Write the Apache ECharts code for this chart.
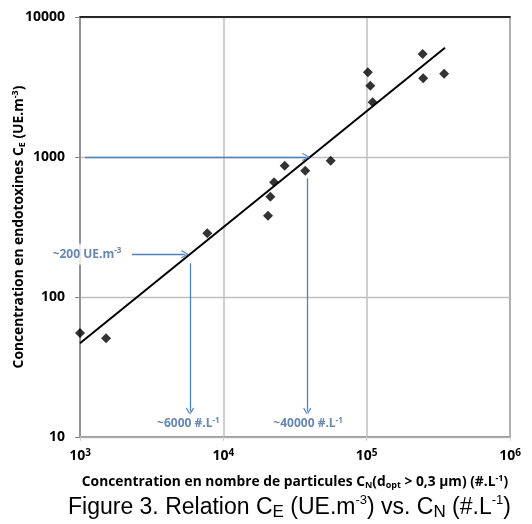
<!DOCTYPE html>
<html>
<head>
<meta charset="utf-8">
<script src="https://cdn.jsdelivr.net/npm/echarts@6/dist/echarts.min.js"></script>
<style>
  html, body { margin: 0; padding: 0; background: #fff; }
  #chart { width: 532px; height: 524px; }
</style>
</head>
<body>
<div id="chart"></div>
<script>
// points : C_N (#.L-1), C_E (UE.m-3)
var cnValues = [1000, 1520, 7730, 20500, 21300, 22600, 26800, 37300, 56100, 102000, 106000, 110000, 246000, 248000, 347000];
var ceValues = [55.3, 50.7, 285, 381, 520, 659, 867, 798, 941, 4030, 3230, 2460, 5440, 3650, 3940];

// droite de tendance (loi puissance)
var trendX = [1000, 352000];
var trendY = [46.7, 6040];

// fleches de lecture
var arrowCE1000 = [[1084, 1000], [37700, 1000]];
var arrowCN40000 = [[38500, 705], [38500, 15.2]];
var arrowCE200 = [[2300, 202], [5400, 202]];
var arrowCN6000 = [[5850, 174], [5850, 15.2]];

// etiquettes des fleches
var noteText = ['~200 UE.m{sup|-3}', '~6000 #.L{sup|-1}', '~40000 #.L{sup|-1}'];
var noteX = [1119, 5700, 39000];
var noteY = [202, 12.4, 12.4];

// graduations
var xTickExp = ['3', '4', '5', '6'];
var yTickLabels = ['10', '100', '1000', '10000'];

var font = 'Open Sans';
var blue = '#4f81bd';
var chevron = 'path://M5,0 L10,8.5 L9,9.5 L5,2.6 L1,9.5 L0,8.5 Z';

var points = cnValues.map(function (x, i) { return [x, ceValues[i]]; });
var trend = trendX.map(function (x, i) { return [x, trendY[i]]; });
var notes = noteText.map(function (t, i) { return { value: [noteX[i], noteY[i]], name: t }; });

function arrow(pair) {
  return [{ coord: pair[0] }, { coord: pair[1] }];
}

var supStyle = { fontSize: 9, fontWeight: 'bold', fontFamily: font, color: '#000', verticalAlign: 'top', lineHeight: 9 };
var subStyle = { fontSize: 9, fontWeight: 'bold', fontFamily: font, color: '#000', verticalAlign: 'bottom', lineHeight: 9 };

var chart = echarts.init(document.getElementById('chart'));

var option = {
  animation: false,
  title: {
    text: 'Figure 3. Relation C{s|E} (UE.m{p|-3}) vs. C{s|N} (#.L{p|-1})',
    left: 68,
    top: 494,
    padding: 0,
    textStyle: {
      fontFamily: 'Liberation Sans',
      fontSize: 23,
      fontWeight: 'normal',
      color: '#000',
      lineHeight: 27,
      rich: {
        s: { fontFamily: 'Liberation Sans', fontSize: 17, color: '#000', verticalAlign: 'bottom', lineHeight: 21 },
        p: { fontFamily: 'Liberation Sans', fontSize: 13, color: '#000', verticalAlign: 'top', lineHeight: 12 }
      }
    }
  },
  grid: {
    left: 80,
    right: 22,
    top: 17,
    bottom: 87,
    outerBoundsMode: 'none',
    show: true,
    borderColor: '#595959',
    borderWidth: 1.5
  },
  xAxis: [{
    type: 'log',
    logBase: 10,
    min: 1000,
    max: 1000000,
    name: 'Concentration en nombre de particules C{b|N}(d{b|opt} > 0,3 µm) (#.L{t|-1})',
    nameLocation: 'middle',
    nameGap: 37,
    nameMoveOverlap: false,
    nameTextStyle: {
      fontFamily: font,
      fontSize: 13.8,
      fontWeight: 'bold',
      color: '#000',
      lineHeight: 16,
      rich: { b: subStyle, t: supStyle }
    },
    axisLine: { lineStyle: { color: '#a6a6a6', width: 1.5 } },
    axisTick: { show: true, length: 4, lineStyle: { color: '#d0d0d0' } },
    splitLine: { show: true, lineStyle: { color: '#bfbfbf', width: 1.5 } },
    minorTick: { show: false },
    axisLabel: {
      margin: 11,
      formatter: function (v) {
        var e = Math.round(Math.log10(v));
        var idx = e - 3;
        return '{a|10}{e|' + xTickExp[idx] + '}';
      },
      rich: {
        a: { fontFamily: font, fontSize: 14, fontWeight: 'bold', color: '#000', lineHeight: 17 },
        e: { fontFamily: font, fontSize: 10, fontWeight: 'bold', color: '#000', verticalAlign: 'top', lineHeight: 11 }
      }
    }
  }, {
    type: 'value',
    position: 'top',
    min: 0,
    max: 1,
    axisLine: { show: true, lineStyle: { color: '#000', width: 1.5 } },
    axisTick: { show: false },
    axisLabel: { show: false },
    splitLine: { show: false }
  }],
  yAxis: {
    type: 'log',
    logBase: 10,
    min: 10,
    max: 10000,
    name: 'Concentration en endotoxines C{b|E} (UE.m{t|-3})',
    nameLocation: 'middle',
    nameRotate: 90,
    nameGap: 53,
    nameMoveOverlap: false,
    nameTextStyle: {
      fontFamily: font,
      fontSize: 13.8,
      fontWeight: 'bold',
      color: '#000',
      lineHeight: 16,
      rich: { b: subStyle, t: supStyle }
    },
    axisLine: { show: true, lineStyle: { color: '#868686', width: 1.5 } },
    axisTick: { show: true, length: 5, lineStyle: { color: '#868686' } },
    splitLine: { show: true, lineStyle: { color: '#bfbfbf', width: 1.3 } },
    axisLabel: {
      margin: 15,
      fontFamily: font,
      fontSize: 14,
      fontWeight: 'bold',
      color: '#000',
      formatter: function (v) {
        var idx = Math.round(Math.log10(v)) - 1;
        return yTickLabels[idx];
      }
    }
  },
  series: [{
    name: 'tendance',
    type: 'line',
    data: trend,
    symbol: 'none',
    lineStyle: { color: '#000', width: 2 },
    z: 3
  }, {
    name: 'mesures',
    type: 'scatter',
    data: points,
    symbol: 'diamond',
    symbolSize: 10,
    itemStyle: { color: '#000' },
    z: 4
  }, {
    name: 'lectures',
    type: 'scatter',
    data: notes,
    symbolSize: 0,
    z: 5,
    silent: true,
    label: {
      show: true,
      position: 'inside',
      formatter: function (p) { return p.name; },
      fontFamily: font,
      fontSize: 12,
      fontWeight: 'bold',
      color: '#44689e',
      backgroundColor: '#fff',
      padding: [3, 3],
      lineHeight: 15,
      rich: {
        sup: { fontFamily: font, fontSize: 8, fontWeight: 'bold', color: '#44689e', verticalAlign: 'top', lineHeight: 8 }
      }
    },
    markLine: {
      silent: true,
      symbol: ['none', chevron],
      symbolSize: [8, 8],
      label: { show: false },
      lineStyle: { color: blue, width: 1.3, type: 'solid' },
      data: [arrow(arrowCE1000), arrow(arrowCN40000), arrow(arrowCE200), arrow(arrowCN6000)]
    }
  }]
};

chart.setOption(option);
</script>
</body>
</html>
